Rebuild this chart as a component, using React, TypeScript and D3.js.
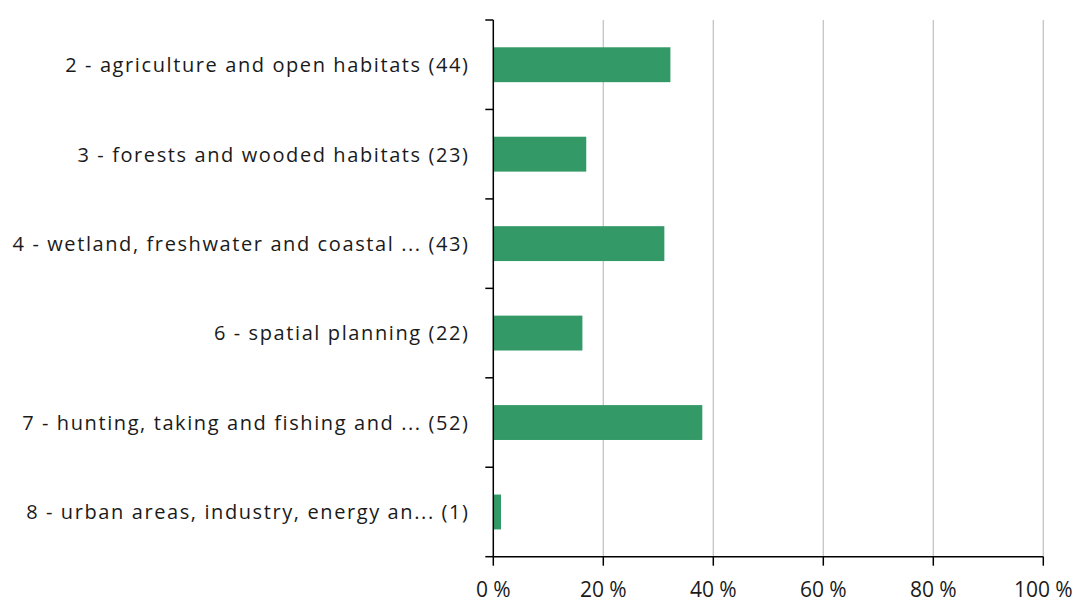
import React from "react";
import * as d3 from "d3";

const categories = [
  "2 - agriculture and open habitats (44)",
  "3 - forests and wooded habitats (23)",
  "4 - wetland, freshwater and coastal ... (43)",
  "6 - spatial planning (22)",
  "7 - hunting, taking and fishing and ... (52)",
  "8 - urban areas, industry, energy an... (1)",
];
const values = [32.2, 16.9, 31.1, 16.2, 38.0, 1.4];
const xTicks = [0, 20, 40, 60, 80, 100];

const W = 1077;
const H = 603;
const left = 493.3;
const right = 1043.3;
const top = 20;
const bottom = 556.7;

export default function App() {
  const x = d3.scaleLinear().domain([0, 100]).range([left, right]);
  const y = d3
    .scaleBand<string>()
    .domain(categories)
    .range([top, bottom])
    .paddingInner(0.61)
    .paddingOuter(0.305);
  const yTickPos = d3.range(categories.length + 1).map((i) => top + i * ((bottom - top) / categories.length));
  const font = "'Open Sans', Lato, sans-serif";
  const ls = 1.6;
  return (
    <svg
      width={W}
      height={H}
      style={{ position: "absolute", left: 0, top: 0, background: "#fff" }}
    >
      {xTicks.slice(1).map((t) => (
        <line key={"g" + t} x1={x(t)} x2={x(t)} y1={top} y2={bottom} stroke="#c4c4c4" strokeWidth={1.3} />
      ))}
      {categories.map((c, i) => (
        <rect
          key={c}
          x={x(0)}
          y={y(c)}
          width={x(values[i]) - x(0)}
          height={y.bandwidth()}
          fill="#339966"
        />
      ))}
      <line x1={left} x2={left} y1={top} y2={bottom} stroke="#000" strokeWidth={1.5} />
      <line x1={left} x2={right} y1={bottom} y2={bottom} stroke="#000" strokeWidth={1.5} />
      {yTickPos.map((p, i) => (
        <line key={"yt" + i} x1={left - 8} x2={left} y1={p} y2={p} stroke="#000" strokeWidth={1.5} />
      ))}
      {xTicks.map((t) => (
        <line key={"xt" + t} x1={x(t)} x2={x(t)} y1={bottom} y2={bottom + 9} stroke="#000" strokeWidth={1.5} />
      ))}
      {categories.map((c) => (
        <text
          key={"l" + c}
          x={468 + ls}
          y={(y(c) as number) + y.bandwidth() / 2 + 7.4}
          textAnchor="end"
          fontFamily={font}
          fontSize={20}
          letterSpacing={ls}
          fill="#1a1a1a"
          style={{ whiteSpace: "pre" }}
        >
          {c}
        </text>
      ))}
      {xTicks.map((t) => (
        <text
          key={"xl" + t}
          x={x(t)}
          y={597}
          textAnchor="middle"
          fontFamily={font}
          fontSize={21}
          fill="#1a1a1a"
        >
          {t + " %"}
        </text>
      ))}
    </svg>
  );
}
